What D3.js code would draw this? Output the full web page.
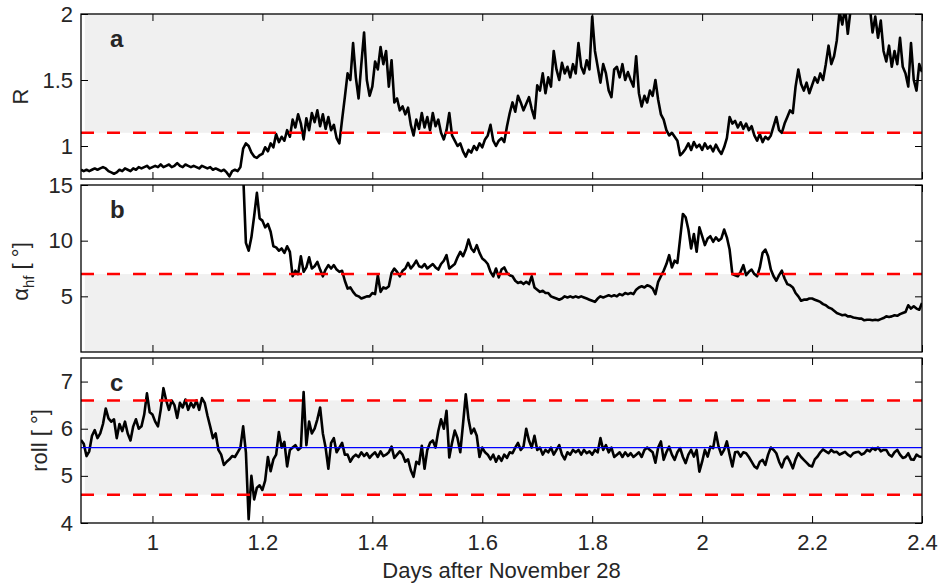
<!DOCTYPE html>
<html>
<head>
<meta charset="utf-8">
<script src="https://cdn.jsdelivr.net/npm/d3@7"></script>
<style>
  body { margin: 0; background: #fff; }
  svg text { font-family: 'Liberation Sans', Arial, Helvetica, sans-serif; fill: #262626; }
</style>
</head>
<body>
<svg id="chart" width="940" height="587"></svg>
<script>
// -------------------------------------------------------------------------
// Data (one sample every 0.005 day)

const dayDomain = [0.87, 2.4];
const sampleStep = 0.005;
const rStart = 0.87;
const alphaStart = 1.165;
const rollStart = 0.87;

const rValues = [
  0.82,0.81,0.82,0.81,0.82,0.83,0.82,0.83,0.84,0.83,0.81,0.80,0.79,0.80,0.82,0.81,0.83,0.82,0.81,0.83,
  0.82,0.84,0.83,0.84,0.85,0.83,0.84,0.85,0.84,0.86,0.84,0.85,0.86,0.84,0.85,0.87,0.85,0.84,0.86,0.85,
  0.84,0.85,0.84,0.83,0.85,0.84,0.83,0.84,0.82,0.83,0.82,0.81,0.82,0.80,0.77,0.81,0.82,0.81,0.84,0.98,
  1.02,1.00,0.95,0.92,0.91,0.93,0.94,0.99,0.96,1.02,0.99,1.09,1.03,1.07,1.04,1.12,1.07,1.20,1.14,1.24,
  1.17,1.05,1.21,1.12,1.25,1.18,1.27,1.15,1.24,1.13,1.22,1.12,1.16,1.06,1.02,1.20,1.37,1.55,1.50,1.78,
  1.52,1.36,1.62,1.86,1.50,1.38,1.45,1.64,1.58,1.75,1.62,1.72,1.45,1.65,1.33,1.36,1.27,1.30,1.24,1.29,
  1.16,1.08,1.20,1.13,1.25,1.14,1.22,1.12,1.25,1.15,1.20,1.10,1.05,1.12,1.25,1.08,1.04,1.00,1.02,0.96,
  0.92,0.97,0.95,1.00,0.97,1.02,0.99,1.05,1.08,1.16,1.04,1.00,1.04,1.06,1.03,1.15,1.25,1.33,1.26,1.38,
  1.33,1.27,1.32,1.37,1.28,1.21,1.46,1.42,1.55,1.40,1.52,1.45,1.72,1.58,1.50,1.63,1.55,1.60,1.52,1.62,
  1.55,1.78,1.60,1.55,1.65,1.58,1.98,1.72,1.60,1.48,1.62,1.55,1.42,1.37,1.58,1.60,1.52,1.62,1.50,1.56,
  1.50,1.45,1.68,1.40,1.30,1.38,1.33,1.42,1.38,1.50,1.35,1.24,1.20,1.12,1.08,1.10,1.07,1.04,0.93,0.95,
  0.98,1.02,0.97,1.03,0.99,1.01,0.97,1.02,0.98,1.00,0.96,1.01,0.97,0.94,0.99,1.06,1.22,1.17,1.19,1.14,
  1.18,1.13,1.17,1.12,1.15,1.08,1.04,1.09,1.03,1.07,1.05,1.08,1.15,1.22,1.12,1.10,1.17,1.22,1.27,1.25,
  1.45,1.58,1.47,1.42,1.48,1.40,1.46,1.52,1.48,1.55,1.50,1.62,1.76,1.62,1.68,1.80,2.02,1.92,2.05,1.85,
  2.03,2.10,2.08,2.12,2.05,2.10,2.02,2.06,1.86,1.98,1.82,1.95,1.72,1.64,1.76,1.60,1.72,1.62,1.82,1.60,
  1.55,1.45,1.78,1.50,1.42,1.62,1.56
];

const alphaValues = [
  16,
  9.8,9.1,10.3,12.2,14.3,12.0,11.8,11.2,11.5,10.8,9.5,9.4,9.1,9.3,8.9,9.5,9.0,6.8,7.3,7.0,
  8.6,7.2,7.6,8.5,7.5,7.7,8.1,7.4,6.8,7.4,7.8,7.5,7.8,7.4,7.2,7.3,6.4,5.7,5.8,5.4,
  5.1,5.0,4.8,4.9,5.0,5.0,5.3,5.2,6.9,5.4,5.8,5.7,5.9,7.1,7.5,7.2,6.8,7.3,7.5,8.0,
  7.5,7.8,8.2,7.7,7.6,7.9,7.5,7.7,7.9,7.6,7.4,7.9,8.2,8.7,7.5,7.7,7.9,8.5,9.0,8.6,
  9.2,10.1,9.3,9.0,9.6,8.9,8.4,8.2,7.9,7.2,6.8,7.5,6.7,7.4,7.6,7.1,6.9,6.8,6.4,6.2,
  6.3,6.1,6.3,6.1,6.8,5.8,5.6,5.4,5.5,5.3,5.3,5.0,4.9,4.8,4.7,4.8,5.0,4.9,5.0,4.9,
  5.0,4.9,5.0,4.9,4.8,4.7,4.6,4.5,4.8,5.0,4.9,5.0,5.1,5.0,5.1,5.0,5.2,5.1,5.3,5.2,
  5.3,5.2,5.6,5.8,5.9,5.8,6.0,5.9,5.7,5.2,6.3,6.8,7.3,7.9,8.7,7.6,8.2,8.0,10.2,12.4,
  12.1,11.0,9.3,10.6,9.0,11.2,10.4,9.6,10.2,10.4,9.9,10.3,10.0,10.2,11.0,10.3,9.2,7.0,6.9,6.8,
  7.2,7.8,6.9,7.2,7.4,7.0,6.8,7.6,8.9,9.2,8.6,7.4,6.8,6.4,6.9,7.3,6.6,6.1,6.0,5.8,
  5.3,5.0,4.6,4.7,4.7,4.8,4.8,4.7,4.6,4.5,4.3,4.2,4.0,3.9,3.7,3.5,3.4,3.3,3.35,3.2,
  3.2,3.1,3.05,3.0,3.0,2.85,2.9,2.9,2.85,2.9,2.85,2.95,3.05,3.2,3.15,3.2,3.3,3.25,3.4,3.5,
  3.6,4.2,3.9,4.1,3.9,3.8,4.4
];

const rollValues = [
  5.76,5.68,5.42,5.52,5.85,5.97,5.80,5.90,6.10,6.43,6.22,6.15,6.20,5.80,6.10,5.95,6.15,5.90,5.75,6.05,
  6.20,6.00,6.05,6.30,6.75,6.35,6.30,6.15,6.05,6.40,6.86,6.60,6.40,6.60,6.50,6.23,6.55,6.45,6.62,6.40,
  6.55,6.45,6.60,6.40,6.65,6.55,6.28,6.05,5.80,5.90,5.55,5.45,5.23,5.30,5.35,5.42,5.40,5.50,5.60,6.05,
  5.50,4.08,5.00,4.50,4.75,4.80,4.70,4.90,5.40,5.10,5.35,5.45,5.93,5.60,5.72,5.20,5.55,5.60,5.65,5.55,
  5.60,6.78,5.65,6.15,5.90,6.00,6.20,6.45,5.90,5.60,5.15,5.70,5.80,5.50,5.60,5.70,5.45,5.45,5.30,5.40,
  5.45,5.40,5.50,5.42,5.48,5.38,5.45,5.50,5.40,5.52,5.42,5.45,5.50,5.62,5.38,5.45,5.52,5.45,5.30,5.35,
  5.12,4.98,5.30,5.25,5.64,5.15,5.55,5.70,5.75,5.60,5.95,6.20,6.00,6.38,5.39,5.70,5.96,5.80,5.50,6.10,
  6.73,6.20,5.90,6.00,5.85,5.40,5.60,5.50,5.45,5.35,5.45,5.30,5.42,5.32,5.45,5.38,5.50,5.48,5.60,5.70,
  5.55,5.62,6.00,5.75,5.60,5.85,5.55,5.60,5.45,5.55,5.50,5.60,5.45,5.55,5.65,5.45,5.35,5.50,5.45,5.55,
  5.50,5.55,5.45,5.55,5.48,5.52,5.45,5.55,5.50,5.80,5.55,5.65,5.50,5.60,5.40,5.45,5.50,5.40,5.50,5.42,
  5.48,5.40,5.45,5.50,5.40,5.55,5.60,5.55,5.50,5.28,5.60,5.73,5.34,5.50,5.62,5.45,5.34,5.50,5.59,5.40,
  5.27,5.45,5.55,5.41,5.55,5.09,5.30,5.55,5.41,5.62,5.59,5.92,5.62,5.45,5.55,5.73,5.45,5.20,5.50,5.51,
  5.41,5.50,5.48,5.40,5.30,5.20,5.16,5.30,5.34,5.23,5.45,5.60,5.55,5.48,5.30,5.18,5.35,5.41,5.30,5.16,
  5.35,5.48,5.40,5.34,5.28,5.22,5.20,5.35,5.41,5.50,5.56,5.52,5.48,5.55,5.50,5.51,5.45,5.48,5.51,5.45,
  5.41,5.48,5.50,5.51,5.45,5.48,5.55,5.52,5.59,5.55,5.60,5.52,5.55,5.55,5.45,5.41,5.50,5.55,5.45,5.38,
  5.40,5.48,5.35,5.34,5.45,5.41,5.40
];

const rThreshold = 1.1;
const alphaThreshold = 7;
const rollLimits = [4.6, 6.6];
const rollMean = 5.6;
const shadeStart = 0.877;

const xTicks = [1, 1.2, 1.4, 1.6, 1.8, 2, 2.2, 2.4];
const rTicks = [1, 1.5, 2];
const alphaTicks = [5, 10, 15];
const rollTicks = [4, 5, 6, 7];

// -------------------------------------------------------------------------
// Layout

const plotLeft = 81;
const plotRight = 922;
const tickLen = 7;
const fontSize = 22;

const toPoints = (start, values) => values.map((v, i) => [start + i * sampleStep, v]);

const panels = [
  {letter: 'a', top: 14, bottom: 179, domain: [0.75, 2], ticks: rTicks,
    points: toPoints(rStart, rValues), shade: [rThreshold, 2], dashed: [rThreshold],
    labelX: 28},
  {letter: 'b', top: 185, bottom: 352, domain: [0, 15], ticks: alphaTicks,
    points: toPoints(alphaStart, alphaValues), shade: [0, alphaThreshold], dashed: [alphaThreshold],
    labelX: 28},
  {letter: 'c', top: 358, bottom: 523, domain: [4, 7.5], ticks: rollTicks,
    points: toPoints(rollStart, rollValues), shade: rollLimits, dashed: rollLimits,
    mean: rollMean, labelX: 47}
];

const svg = d3.select('#chart');

const x = d3.scaleLinear()
  .domain(dayDomain)
  .range([plotLeft, plotRight]);

panels.forEach((p, idx) => {
  let y = d3.scaleLinear()
    .domain(p.domain)
    .range([p.bottom, p.top]);

  let g = svg.append('g').attr('class', 'panel-' + p.letter);

  // clip for the trace
  let clipId = 'clip-' + p.letter;
  svg.append('clipPath').attr('id', clipId)
    .append('rect')
    .attr('x', plotLeft).attr('y', p.top)
    .attr('width', plotRight - plotLeft).attr('height', p.bottom - p.top);

  // shaded band
  g.append('rect')
    .attr('x', x(shadeStart))
    .attr('y', y(p.shade[1]))
    .attr('width', x(dayDomain[1]) - x(shadeStart))
    .attr('height', y(p.shade[0]) - y(p.shade[1]))
    .attr('fill', '#f0f0f0');

  // trace
  let line = d3.line()
    .x(d => x(d[0]))
    .y(d => y(d[1]));

  g.append('path')
    .datum(p.points)
    .attr('clip-path', `url(#${clipId})`)
    .attr('d', line)
    .attr('fill', 'none')
    .attr('stroke', '#000')
    .attr('stroke-width', 2.6)
    .attr('stroke-linejoin', 'round');

  // threshold lines
  p.dashed.forEach(v => {
    g.append('line')
      .attr('x1', plotLeft).attr('x2', plotRight)
      .attr('y1', y(v)).attr('y2', y(v))
      .attr('stroke', '#ff0000')
      .attr('stroke-width', 2.6)
      .attr('stroke-dasharray', '13,13');
  });

  if (p.mean !== undefined) {
    g.append('line')
      .attr('x1', plotLeft).attr('x2', plotRight)
      .attr('y1', y(p.mean)).attr('y2', y(p.mean))
      .attr('stroke', '#0000ff')
      .attr('stroke-width', 1.3);
  }

  // axes, ticks pointing inwards
  let last = idx === panels.length - 1;

  g.append('g')
    .attr('transform', `translate(${plotLeft},0)`)
    .call(d3.axisLeft(y).tickValues(p.ticks).tickSize(-tickLen).tickSizeOuter(0)
      .tickPadding(8).tickFormat(d => String(d)));

  g.append('g')
    .attr('transform', `translate(${plotRight},0)`)
    .call(d3.axisRight(y).tickValues(p.ticks).tickSize(-tickLen).tickSizeOuter(0)
      .tickFormat(''));

  g.append('g')
    .attr('transform', `translate(0,${p.bottom})`)
    .call(d3.axisBottom(x).tickValues(xTicks).tickSize(-tickLen).tickSizeOuter(0)
      .tickPadding(11).tickFormat(last ? (d => String(d)) : ''));

  g.append('g')
    .attr('transform', `translate(0,${p.top})`)
    .call(d3.axisTop(x).tickValues(xTicks).tickSize(-tickLen).tickSizeOuter(0)
      .tickFormat(''));

  g.selectAll('.domain').remove();
  g.selectAll('.tick line').attr('stroke', '#000').attr('stroke-width', 1);
  g.selectAll('.tick text')
    .attr('font-size', fontSize)
    .attr('font-family', null)
    .attr('fill', '#262626');

  // frame
  g.append('rect')
    .attr('x', plotLeft).attr('y', p.top)
    .attr('width', plotRight - plotLeft).attr('height', p.bottom - p.top)
    .attr('fill', 'none')
    .attr('stroke', '#000')
    .attr('stroke-width', 1.3);

  // panel letter
  g.append('text')
    .attr('x', 110).attr('y', p.top + 33)
    .attr('font-size', 24)
    .attr('font-weight', 'bold')
    .text(p.letter);

  // y label
  let lab = g.append('text')
    .attr('transform', `translate(${p.labelX},${(p.top + p.bottom) / 2 + (p.letter === 'b' ? 3 : 0)}) rotate(-90)`)
    .attr('text-anchor', 'middle')
    .attr('font-size', fontSize);

  if (p.letter === 'a') {
    lab.text('R');
  } else if (p.letter === 'b') {
    lab.append('tspan').text('α');
    lab.append('tspan').attr('font-size', 15).attr('dy', 6).text('hf');
    lab.append('tspan').attr('dy', -6).text(' [ °]');
  } else {
    lab.text('roll [ °]');
  }
});

// x label
svg.append('text')
  .attr('x', (plotLeft + plotRight) / 2)
  .attr('y', 578)
  .attr('text-anchor', 'middle')
  .attr('font-size', fontSize)
  .text('Days after November 28');
</script>
</body>
</html>
